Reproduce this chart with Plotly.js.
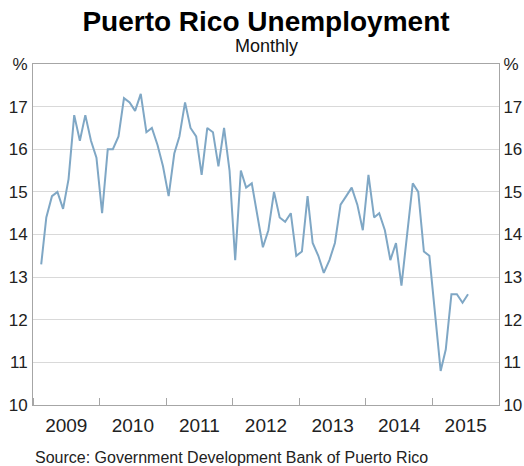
<!DOCTYPE html>
<html>
<head>
<meta charset="utf-8">
<script src="https://cdn.plot.ly/plotly-3.0.1.min.js"></script>
<style>html,body{margin:0;padding:0;background:#fff;}#chart{width:524px;height:466px;}</style>
</head>
<body>
<div id="chart"></div>
<script>
// Monthly observations, Feb 2009 – Jul 2015
var startYear = 2009;
var startMonth = 2;
var unemployment = [
  13.3, 14.4, 14.9, 15.0, 14.6, 15.3, 16.8, 16.2, 16.8, 16.2, 15.8,
  14.5, 16.0, 16.0, 16.3, 17.2, 17.1, 16.9, 17.3, 16.4, 16.5, 16.1, 15.6,
  14.9, 15.9, 16.3, 17.1, 16.5, 16.3, 15.4, 16.5, 16.4, 15.6, 16.5, 15.5,
  13.4, 15.5, 15.1, 15.2, 14.5, 13.7, 14.1, 15.0, 14.4, 14.3, 14.5, 13.5,
  13.6, 14.9, 13.8, 13.5, 13.1, 13.4, 13.8, 14.7, 14.9, 15.1, 14.7, 14.1,
  15.4, 14.4, 14.5, 14.1, 13.4, 13.8, 12.8, 14.0, 15.2, 15.0, 13.6, 13.5,
  12.2, 10.8, 11.3, 12.6, 12.6, 12.4, 12.6
];
var yTickVals = [10, 11, 12, 13, 14, 15, 16, 17, 18];
var yTickText = ['10', '11', '12', '13', '14', '15', '16', '17', '%'];
var xRange = ['2009-01-01', '2016-01-01'];

function pad(n){ return (n < 10 ? '0' : '') + n; }
var dates = unemployment.map(function(v, i){
  var m = startMonth - 1 + i;
  var y = startYear + Math.floor(m / 12);
  return y + '-' + pad(m % 12 + 1) + '-15';
});

var font = 'Liberation Sans, Arial, sans-serif';
var gridCol = '#d9d9d9';
var boxCol = '#a6a6a6';

var trace = {
  x: dates, y: unemployment, type: 'scatter', mode: 'lines',
  line: {color: '#7fa7c5', width: 2}, hoverinfo: 'skip'
};
var trace2 = {
  x: dates, y: unemployment, type: 'scatter', mode: 'lines', yaxis: 'y2',
  line: {color: 'rgba(0,0,0,0)', width: 0}, hoverinfo: 'skip'
};

var yCommon = {
  range: [10, 18], tickvals: yTickVals, ticktext: yTickText,
  showgrid: true, gridcolor: gridCol, gridwidth: 1,
  zeroline: false, showline: true, linecolor: boxCol, linewidth: 1,
  ticks: '', tickfont: {family: font, size: 17, color: '#222'}, fixedrange: true
};

var layout = {
  width: 524, height: 466,
  margin: {l: 33, r: 25, t: 64, b: 61},
  paper_bgcolor: '#fff', plot_bgcolor: '#fff',
  showlegend: false,
  title: {text: '<b>Puerto Rico Unemployment</b>', font: {family: font, size: 28, color: '#000'},
          x: 0.5, xref: 'paper', y: 0.955, yref: 'container', yanchor: 'middle'},
  xaxis: {
    type: 'date', range: xRange, tick0: '2009-01-01', dtick: 'M12',
    tickformat: '%Y', ticklabelmode: 'period',
    ticks: 'inside', ticklen: 7, tickcolor: boxCol, tickwidth: 1,
    showgrid: false, zeroline: false, showline: true, linecolor: boxCol, linewidth: 1, mirror: true,
    tickfont: {family: font, size: 19, color: '#222'}, ticklabelstandoff: 3, fixedrange: true
  },
  yaxis: Object.assign({}, yCommon, {side: 'left', ticklabelstandoff: 1}),
  yaxis2: Object.assign({}, yCommon, {side: 'right', overlaying: 'y', showgrid: false}),
  annotations: [
    {text: 'Monthly', xref: 'paper', yref: 'paper', x: 0.5, y: 1, yshift: 18,
     showarrow: false, xanchor: 'center', yanchor: 'middle', font: {family: font, size: 18, color: '#111'}},
    {text: 'Source: Government Development Bank of Puerto Rico', xref: 'paper', yref: 'paper',
     x: 0, y: 0, yshift: -52, showarrow: false, xanchor: 'left', yanchor: 'middle',
     font: {family: font, size: 16, color: '#222'}}
  ]
};

Plotly.newPlot('chart', [trace, trace2], layout, {displayModeBar: false, staticPlot: true});
</script>
</body>
</html>
